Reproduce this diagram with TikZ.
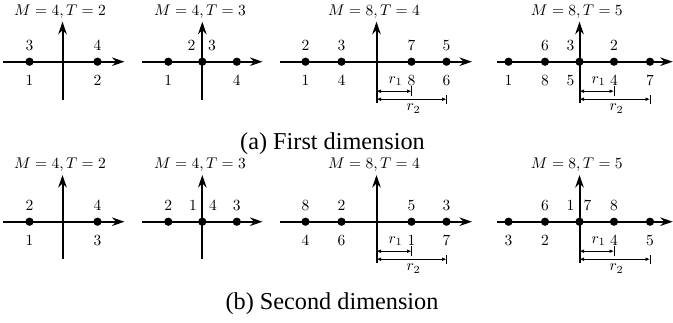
\documentclass[tikz,border=0pt]{standalone}
\usepackage[no-math]{fontspec}
\newfontfamily\capfont{Liberation Serif}
\usetikzlibrary{arrows.meta}
\newcommand{\lbltxt}[1]{\scalebox{0.62}{$#1$}}
\tikzset{
  axis/.style={line width=0.8pt,-{Stealth[length=5pt,width=3.4pt]}},
  dotpt/.style={circle,fill=black,inner sep=0pt,minimum size=3.3pt},
  num/.style={inner sep=0pt,anchor=base,font=\fontsize{10}{12}\selectfont},
  dim/.style={line width=0.4pt,{Latex[length=1.8pt,width=1.5pt]}-{Latex[length=1.8pt,width=1.5pt]}},
  tickline/.style={line width=0.4pt},
  captext/.style={inner sep=0pt,anchor=base,font=\capfont\fontsize{9.7}{11}\selectfont}
}
\begin{document}
\begin{tikzpicture}[x=0.4pt,y=-0.4pt]
\useasboundingbox (0,0) rectangle (673,322);
% ================= ROW A =================
\begin{scope}[shift={(0,61.7)}]
% panel 1
\coordinate (a1W) at (2.5,0); \coordinate (a1E) at (124.5,0);
\coordinate (a1S) at (62.5,38); \coordinate (a1N) at (62.5,-40);
\draw[axis] (a1W) -- (a1E); \draw[axis] (a1S) -- (a1N);
\node[dotpt] (a1p1) at (29.5,0) {}; \node[dotpt] (a1p2) at (97.5,0) {};
\node[num] (a1u1) at (29.5,-11.7) {\lbltxt{3}}; \node[num] (a1u2) at (97.5,-11.7) {\lbltxt{4}};
\node[num] (a1b1) at (29.5,23.3) {\lbltxt{1}}; \node[num] (a1b2) at (97.5,23.3) {\lbltxt{2}};
\node[num] (a1t) at (60,-46.7) {\lbltxt{M=4,T=2}};
% panel 2
\coordinate (a2W) at (142,0); \coordinate (a2E) at (262.5,0);
\coordinate (a2S) at (202.3,38); \coordinate (a2N) at (202.3,-40);
\draw[axis] (a2W) -- (a2E); \draw[axis] (a2S) -- (a2N);
\node[dotpt] (a2p1) at (168.3,0) {}; \node[dotpt] (a2p2) at (202.3,0) {}; \node[dotpt] (a2p3) at (236.8,0) {};
\node[num] (a2u1) at (191.5,-11.7) {\lbltxt{2}}; \node[num] (a2u2) at (212,-11.7) {\lbltxt{3}};
\node[num] (a2b1) at (168.3,23.3) {\lbltxt{1}}; \node[num] (a2b2) at (236.8,23.3) {\lbltxt{4}};
\node[num] (a2t) at (200,-46.7) {\lbltxt{M=4,T=3}};
% panel 3
\coordinate (a3W) at (280,0); \coordinate (a3E) at (472,0);
\coordinate (a3S) at (376.5,41.6); \coordinate (a3N) at (376.5,-40);
\draw[axis] (a3W) -- (a3E); \draw[axis] (a3S) -- (a3N);
\node[dotpt] (a3p1) at (305.5,0) {}; \node[dotpt] (a3p2) at (341.5,0) {};
\node[dotpt] (a3p3) at (411.5,0) {}; \node[dotpt] (a3p4) at (446.5,0) {};
\node[num] (a3u1) at (305.5,-11.7) {\lbltxt{2}}; \node[num] (a3u2) at (341.5,-11.7) {\lbltxt{3}};
\node[num] (a3u3) at (411.5,-11.7) {\lbltxt{7}}; \node[num] (a3u4) at (446.5,-11.7) {\lbltxt{5}};
\node[num] (a3b1) at (305.5,23.3) {\lbltxt{1}}; \node[num] (a3b2) at (341.5,23.3) {\lbltxt{4}};
\node[num] (a3b3) at (411.5,23.3) {\lbltxt{8}}; \node[num] (a3b4) at (446.5,23.3) {\lbltxt{6}};
\node[num] (a3t) at (374,-46.7) {\lbltxt{M=8,T=4}};
\coordinate (a3r1s) at (376.5,29.5); \coordinate (a3r1e) at (411.5,29.5);
\coordinate (a3k1t) at (411.5,24); \coordinate (a3k1b) at (411.5,34);
\coordinate (a3r2s) at (376.5,37.5); \coordinate (a3r2e) at (446.5,37.5);
\coordinate (a3k2t) at (446.5,33.5); \coordinate (a3k2b) at (446.5,42);
\draw[dim] (a3r1s) -- (a3r1e); \draw[tickline] (a3k1t) -- (a3k1b);
\draw[dim] (a3r2s) -- (a3r2e); \draw[tickline] (a3k2t) -- (a3k2b);
\node[num] (a3r1) at (395.5,21.5) {\lbltxt{r_1}};
\node[num] (a3r2) at (413.5,49) {\lbltxt{r_2}};
% panel 4
\coordinate (a4W) at (497,0); \coordinate (a4E) at (672.8,0);
\coordinate (a4S) at (579.5,41.6); \coordinate (a4N) at (579.5,-40);
\draw[axis] (a4W) -- (a4E); \draw[axis] (a4S) -- (a4N);
\node[dotpt] (a4p1) at (508.5,0) {}; \node[dotpt] (a4p2) at (545,0) {};
\node[dotpt] (a4p3) at (579.5,0) {}; \node[dotpt] (a4p4) at (614,0) {};
\node[dotpt] (a4p5) at (650,0) {};
\node[num] (a4u1) at (545,-11.7) {\lbltxt{6}}; \node[num] (a4u2) at (570.5,-11.7) {\lbltxt{3}};
\node[num] (a4u3) at (614,-11.7) {\lbltxt{2}};
\node[num] (a4b1) at (508.5,23.3) {\lbltxt{1}}; \node[num] (a4b2) at (545,23.3) {\lbltxt{8}};
\node[num] (a4b3) at (570.5,23.3) {\lbltxt{5}}; \node[num] (a4b4) at (614,23.3) {\lbltxt{4}};
\node[num] (a4b5) at (650,23.3) {\lbltxt{7}};
\node[num] (a4t) at (576.8,-46.7) {\lbltxt{M=8,T=5}};
\coordinate (a4r1s) at (579.5,29.5); \coordinate (a4r1e) at (614,29.5);
\coordinate (a4k1t) at (614,24); \coordinate (a4k1b) at (614,34);
\coordinate (a4r2s) at (579.5,37.5); \coordinate (a4r2e) at (650,37.5);
\coordinate (a4k2t) at (650,33.5); \coordinate (a4k2b) at (650,42);
\draw[dim] (a4r1s) -- (a4r1e); \draw[tickline] (a4k1t) -- (a4k1b);
\draw[dim] (a4r2s) -- (a4r2e); \draw[tickline] (a4k2t) -- (a4k2b);
\node[num] (a4r1) at (598.5,21.5) {\lbltxt{r_1}};
\node[num] (a4r2) at (616.5,49) {\lbltxt{r_2}};
\end{scope}
\node[captext] (capa) at (332.5,149) {(a) First dimension};
% ================= ROW B =================
\begin{scope}[shift={(0,221.7)}]
% panel 1
\coordinate (b1W) at (2.5,0); \coordinate (b1E) at (124.5,0);
\coordinate (b1S) at (62.5,37); \coordinate (b1N) at (62.5,-46.7);
\draw[axis] (b1W) -- (b1E); \draw[axis] (b1S) -- (b1N);
\node[dotpt] (b1p1) at (29.5,0) {}; \node[dotpt] (b1p2) at (97.5,0) {};
\node[num] (b1u1) at (29.5,-11.7) {\lbltxt{2}}; \node[num] (b1u2) at (97.5,-11.7) {\lbltxt{4}};
\node[num] (b1b1) at (29.5,23.3) {\lbltxt{1}}; \node[num] (b1b2) at (97.5,23.3) {\lbltxt{3}};
\node[num] (b1t) at (60,-53.7) {\lbltxt{M=4,T=2}};
% panel 2
\coordinate (b2W) at (142,0); \coordinate (b2E) at (262.5,0);
\coordinate (b2S) at (202.3,37); \coordinate (b2N) at (202.3,-46.7);
\draw[axis] (b2W) -- (b2E); \draw[axis] (b2S) -- (b2N);
\node[dotpt] (b2p1) at (168.3,0) {}; \node[dotpt] (b2p2) at (202.3,0) {}; \node[dotpt] (b2p3) at (236.8,0) {};
\node[num] (b2u1) at (168.3,-11.7) {\lbltxt{2}}; \node[num] (b2u2) at (193,-11.7) {\lbltxt{1}};
\node[num] (b2u3) at (213,-11.7) {\lbltxt{4}}; \node[num] (b2u4) at (236.8,-11.7) {\lbltxt{3}};
\node[num] (b2t) at (200,-53.7) {\lbltxt{M=4,T=3}};
% panel 3
\coordinate (b3W) at (280,0); \coordinate (b3E) at (472,0);
\coordinate (b3S) at (376.5,41.6); \coordinate (b3N) at (376.5,-46.7);
\draw[axis] (b3W) -- (b3E); \draw[axis] (b3S) -- (b3N);
\node[dotpt] (b3p1) at (305.5,0) {}; \node[dotpt] (b3p2) at (341.5,0) {};
\node[dotpt] (b3p3) at (411.5,0) {}; \node[dotpt] (b3p4) at (446.5,0) {};
\node[num] (b3u1) at (305.5,-11.7) {\lbltxt{8}}; \node[num] (b3u2) at (341.5,-11.7) {\lbltxt{2}};
\node[num] (b3u3) at (411.5,-11.7) {\lbltxt{5}}; \node[num] (b3u4) at (446.5,-11.7) {\lbltxt{3}};
\node[num] (b3b1) at (305.5,23.3) {\lbltxt{4}}; \node[num] (b3b2) at (341.5,23.3) {\lbltxt{6}};
\node[num] (b3b3) at (411.5,23.3) {\lbltxt{1}}; \node[num] (b3b4) at (446.5,23.3) {\lbltxt{7}};
\node[num] (b3t) at (374,-53.7) {\lbltxt{M=8,T=4}};
\coordinate (b3r1s) at (376.5,29.5); \coordinate (b3r1e) at (411.5,29.5);
\coordinate (b3k1t) at (411.5,24); \coordinate (b3k1b) at (411.5,34);
\coordinate (b3r2s) at (376.5,37.5); \coordinate (b3r2e) at (446.5,37.5);
\coordinate (b3k2t) at (446.5,33.5); \coordinate (b3k2b) at (446.5,42);
\draw[dim] (b3r1s) -- (b3r1e); \draw[tickline] (b3k1t) -- (b3k1b);
\draw[dim] (b3r2s) -- (b3r2e); \draw[tickline] (b3k2t) -- (b3k2b);
\node[num] (b3r1) at (395.5,21.5) {\lbltxt{r_1}};
\node[num] (b3r2) at (413.5,49) {\lbltxt{r_2}};
% panel 4
\coordinate (b4W) at (497,0); \coordinate (b4E) at (672.8,0);
\coordinate (b4S) at (579.5,41.6); \coordinate (b4N) at (579.5,-46.7);
\draw[axis] (b4W) -- (b4E); \draw[axis] (b4S) -- (b4N);
\node[dotpt] (b4p1) at (508.5,0) {}; \node[dotpt] (b4p2) at (545,0) {};
\node[dotpt] (b4p3) at (579.5,0) {}; \node[dotpt] (b4p4) at (614,0) {};
\node[dotpt] (b4p5) at (650,0) {};
\node[num] (b4u1) at (545,-11.7) {\lbltxt{6}}; \node[num] (b4u2) at (570.5,-11.7) {\lbltxt{1}};
\node[num] (b4u3) at (587.5,-11.7) {\lbltxt{7}}; \node[num] (b4u4) at (614,-11.7) {\lbltxt{8}};
\node[num] (b4b1) at (508.5,23.3) {\lbltxt{3}}; \node[num] (b4b2) at (545,23.3) {\lbltxt{2}};
\node[num] (b4b3) at (614,23.3) {\lbltxt{4}}; \node[num] (b4b4) at (650,23.3) {\lbltxt{5}};
\node[num] (b4t) at (576.8,-53.7) {\lbltxt{M=8,T=5}};
\coordinate (b4r1s) at (579.5,29.5); \coordinate (b4r1e) at (614,29.5);
\coordinate (b4k1t) at (614,24); \coordinate (b4k1b) at (614,34);
\coordinate (b4r2s) at (579.5,37.5); \coordinate (b4r2e) at (650,37.5);
\coordinate (b4k2t) at (650,33.5); \coordinate (b4k2b) at (650,42);
\draw[dim] (b4r1s) -- (b4r1e); \draw[tickline] (b4k1t) -- (b4k1b);
\draw[dim] (b4r2s) -- (b4r2e); \draw[tickline] (b4k2t) -- (b4k2b);
\node[num] (b4r1) at (598.5,21.5) {\lbltxt{r_1}};
\node[num] (b4r2) at (616.5,49) {\lbltxt{r_2}};
\end{scope}
\node[captext] (capb) at (332,309.5) {(b) Second dimension};
\end{tikzpicture}
\end{document}
